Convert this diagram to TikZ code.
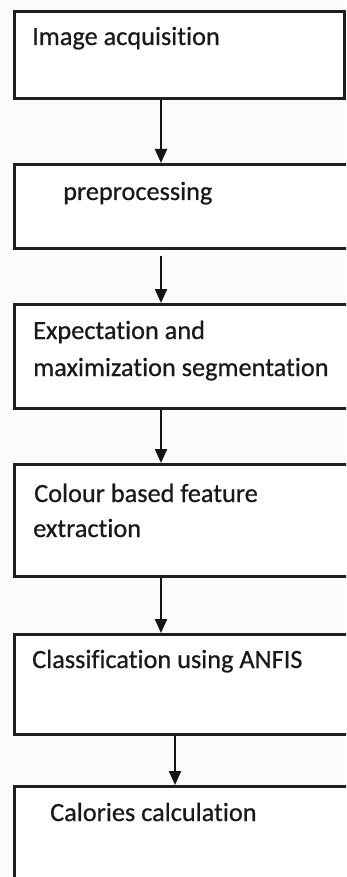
\documentclass[tikz,border=0pt]{standalone}
\usepackage{fontspec}
\setmainfont{Carlito}[Ligatures=NoCommon,FakeBold=0.6]
\usetikzlibrary{arrows.meta}
\begin{document}
\begin{tikzpicture}[x=1pt,y=-1pt,
  box/.style={draw=black!88,line width=2.6pt,fill=white,inner sep=0pt,anchor=north west},
  lbl/.style={anchor=base west,inner sep=0pt,text=black!90,font=\fontsize{26.3}{37}\selectfont},
  arr/.style={draw=black!92,line width=2.2pt,-{Triangle[width=12pt,length=14pt]}}]
\useasboundingbox (0,0) rectangle (346,877);
\fill[gray!3] (0,0) rectangle (346,877);
\clip (0,0) rectangle (346,877);
% boxes
\node[box,minimum width=330pt,minimum height=87pt] (b1) at (13,10) {};
\node[box,minimum width=360pt,minimum height=84pt] (b2) at (13,163) {};
\node[box,minimum width=360pt,minimum height=104pt] (b3) at (13,303) {};
\node[box,minimum width=360pt,minimum height=112pt] (b4) at (13,463) {};
\node[box,minimum width=360pt,minimum height=100pt] (b5) at (13,633) {};
\node[box,minimum width=360pt,minimum height=130pt] (b6) at (13,785) {};
% labels
\node[lbl] (t1) at (32,45) {Image acquisition};
\node[lbl] (t2) at (63,200) {preprocessing};
\node[lbl] (t3a) at (33,339) {Expectation and};
\node[lbl] (t3b) at (33,376) {maximization segmentation};
\node[lbl] (t4a) at (34,502) {Colour based feature};
\node[lbl] (t4b) at (33,537) {extraction};
\node[lbl] (t5) at (32,668) {Classification using ANFIS};
\node[lbl] (t6) at (50,821) {Calories calculation};
% arrows
\coordinate (ax) at (161,0);
\coordinate (ax5) at (175,0);
\draw[arr] (b1.south -| ax) -- (b2.north -| ax);
\draw[arr,shorten <=6pt] (b2.south -| ax) -- (b3.north -| ax);
\draw[arr] (b3.south -| ax) -- (b4.north -| ax);
\draw[arr] (b4.south -| ax) -- (b5.north -| ax);
\draw[arr] (b5.south -| ax5) -- (b6.north -| ax5);
\end{tikzpicture}
\end{document}
